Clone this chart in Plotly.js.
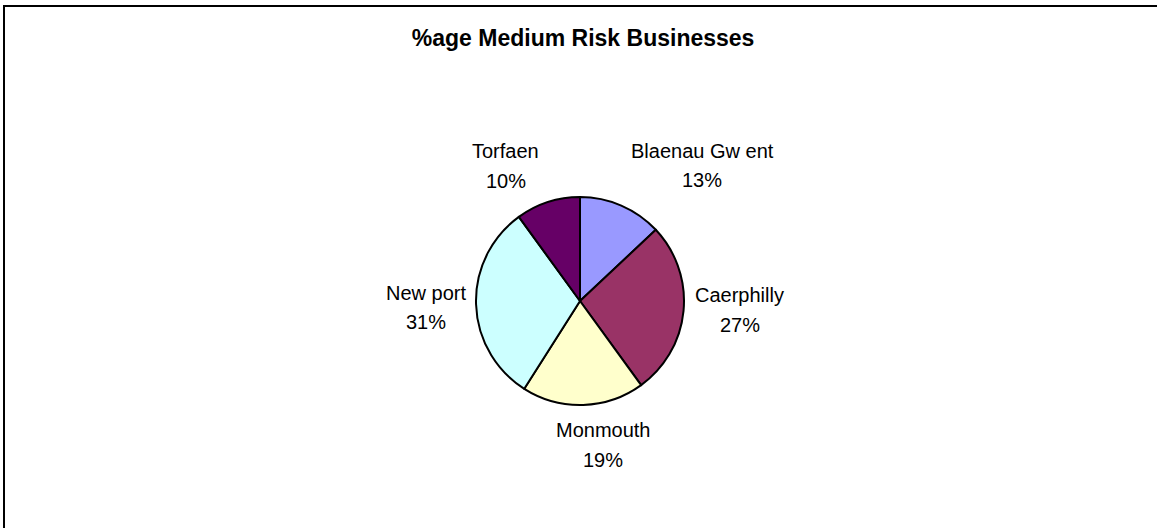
<!DOCTYPE html>
<html>
<head>
<meta charset="utf-8">
<script src="https://cdn.plot.ly/plotly-3.0.1.min.js"></script>
<style>
  html, body { margin: 0; padding: 0; background: #fff; overflow: hidden; }
  #chart { width: 1157px; height: 528px; }
  #frame { position: absolute; left: 3px; top: 5px; width: 2000px; height: 2000px;
           border-left: 2px solid #000; border-top: 2px solid #000; pointer-events: none; }
</style>
</head>
<body>
<div id="chart"></div>
<div id="frame"></div>
<script>
const chartTitle = "%age Medium Risk Businesses";
const categories = ["Blaenau Gw ent", "Caerphilly", "Monmouth", "New port", "Torfaen"];
const values = [13, 27, 19, 31, 10];
const sliceColors = ["#9999FF", "#993366", "#FFFFCC", "#CCFFFF", "#660066"];

// label placement offsets (pixels) from each slice's outer mid-point: styling only
const labelOffsets = [[81, -40], [56, -1], [20, 40], [-50, 3], [-42, -36]];
const lineGap = 29.5;

const W = 1157, H = 528;
const M = { l: 100, r: 97, t: 197, b: 123 };
const plotW = W - M.l - M.r, plotH = H - M.t - M.b;

const total = values.reduce((a, b) => a + b, 0);
const labelFont = { family: "Liberation Sans, Arial, sans-serif", size: 20, color: "#000000" };

const annotations = [];
let cum = 0;
values.forEach((v, i) => {
  const midFrac = (cum + v / 2) / total;
  cum += v;
  const theta = midFrac * 2 * Math.PI;           // clockwise from 12 o'clock
  // outer mid-point of slice in paper coordinates (pie radius = half plot height)
  const rPaperX = (plotH / 2) / plotW, rPaperY = 0.5;
  const x = 0.5 + rPaperX * Math.sin(theta);
  const y = 0.5 + rPaperY * Math.cos(theta);
  const pct = Math.round(v / total * 100) + "%";
  const [ox, oy] = labelOffsets[i];
  [[categories[i], oy - lineGap / 2], [pct, oy + lineGap / 2]].forEach(([txt, dy]) => {
    annotations.push({
      xref: "paper", yref: "paper", x: x, y: y,
      xshift: ox, yshift: -dy,
      text: txt, showarrow: false,
      xanchor: "center", yanchor: "middle",
      font: labelFont
    });
  });
});

const data = [{
  type: "pie",
  labels: categories,
  values: values,
  sort: false,
  direction: "clockwise",
  rotation: 0,
  marker: { colors: sliceColors, line: { color: "#000000", width: 2 } },
  textinfo: "none",
  hoverinfo: "none",
  showlegend: false
}];

const layout = {
  width: W,
  height: H,
  margin: M,
  paper_bgcolor: "#ffffff",
  plot_bgcolor: "#ffffff",
  showlegend: false,
  annotations: annotations,
  title: {
    text: "<b>" + chartTitle + "</b>",
    font: { family: "Liberation Sans, Arial, sans-serif", size: 23, color: "#000000" },
    xref: "container", yref: "container",
    x: 0.504, y: 0.9275, xanchor: "center", yanchor: "middle"
  }
};

Plotly.newPlot("chart", data, layout, { displayModeBar: false, staticPlot: true });
</script>
</body>
</html>
